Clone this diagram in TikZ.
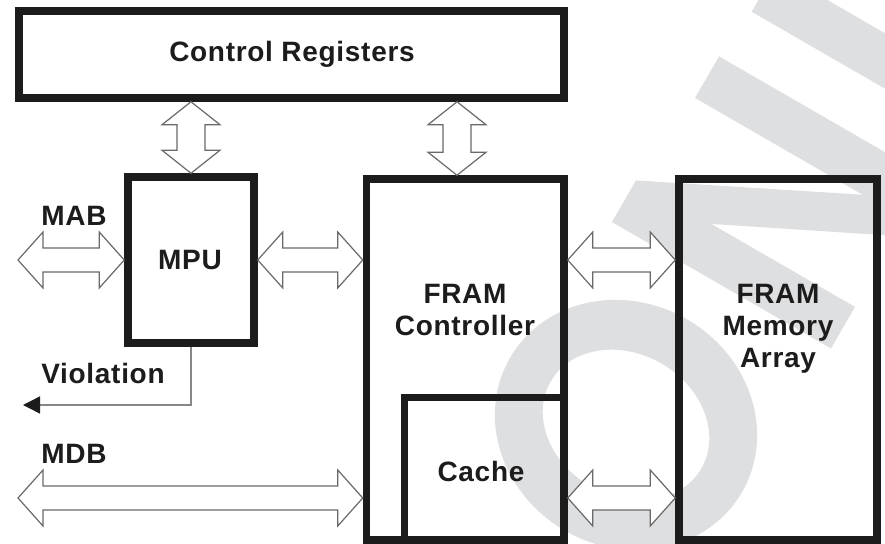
\documentclass[tikz,border=0pt]{standalone}
\usepackage{fontspec}
\setmainfont{Liberation Sans}[LetterSpace=2.5]
\usetikzlibrary{arrows.meta,calc}
\definecolor{wm}{RGB}{222,223,225}
\definecolor{ink}{RGB}{28,28,28}
\definecolor{busgray}{RGB}{105,105,105}
\definecolor{viogray}{RGB}{135,135,135}

\newcommand\hbus[2]{\draw[bus] let \p1=#1, \p2=#2 in
  (\x1,\y1) -- (\x1+25pt,\y1+28pt) -- (\x1+25pt,\y1+12pt) -- (\x2-25pt,\y1+12pt)
  -- (\x2-25pt,\y1+28pt) -- (\x2,\y1) -- (\x2-25pt,\y1-28pt) -- (\x2-25pt,\y1-12pt)
  -- (\x1+25pt,\y1-12pt) -- (\x1+25pt,\y1-28pt) -- cycle;}
\newcommand\vbus[2]{\draw[bus] let \p1=#1, \p2=#2 in
  (\x1,\y1) -- (\x1+29pt,\y1-23pt) -- (\x1+14pt,\y1-23pt) -- (\x1+14pt,\y2+23pt)
  -- (\x1+29pt,\y2+23pt) -- (\x1,\y2) -- (\x1-29pt,\y2+23pt) -- (\x1-14pt,\y2+23pt)
  -- (\x1-14pt,\y1-23pt) -- (\x1-29pt,\y1-23pt) -- cycle;}

\begin{document}
\begin{tikzpicture}[x=1pt,y=-1pt,
  box/.style={draw=ink, line width=7.5pt, inner sep=0pt},
  lbl/.style={text=ink, inner sep=0pt, font=\fontsize{28pt}{32pt}\selectfont\bfseries},
  bus/.style={draw=busgray, fill=white, line width=1.2pt, line join=miter},
  viol/.style={draw=viogray, line width=1.4pt, -{Triangle[length=17pt,width=17pt,color=ink]}}]
\useasboundingbox (0,0) rectangle (885,543);
\fill[white] (0,0) rectangle (885,543);

% watermark
\begin{scope}
\clip (0,0) rectangle (885,543);
\begin{scope}[shift={(626,425)}, rotate=60]
  \fill[wm, even odd rule] (0pt,0pt) ellipse [x radius=122pt, y radius=134pt]
                           (0pt,0pt) ellipse [x radius=71pt, y radius=87pt];
\end{scope}
\begin{scope}[shift={(831,348.5)}, rotate=60]
  \fill[wm] (0pt,0pt) -- (0pt,253pt) -- (48pt,253pt) -- (149pt,49.4pt) -- (149pt,243pt)
    -- (197pt,243pt) -- (197pt,0pt) -- (130pt,0pt) -- (48pt,166pt) -- (48pt,0pt) -- cycle;
  \fill[wm] (252pt,0pt) rectangle (300pt,237pt);
\end{scope}
\end{scope}

% boxes
\node[box, minimum width=545pt, minimum height=87pt] (cr) at (291.5,54.5) {};
\node[box, minimum width=126pt, minimum height=166pt] (mpu) at (191,260) {};
\node[box, minimum width=197.5pt, minimum height=361pt] (ctrl) at (465.25,359.5) {};
\node[box, minimum width=159.5pt, minimum height=142.5pt] (cache) at (484.25,468.75) {};
\node[box, minimum width=198pt, minimum height=361pt] (mem) at (778,359.5) {};

% labels
\node[lbl, anchor=base] (crt) at (292,62) {Control Registers};
\node[lbl, anchor=base] (mput) at (190,269) {MPU};
\node[lbl, anchor=base] (mab) at (74,225) {MAB};
\node[lbl, anchor=base] (vio) at (103,383) {Violation};
\node[lbl, anchor=base] (mdb) at (74,463) {MDB};
\node[lbl, anchor=base] (cachet) at (481,481) {Cache};
\node[lbl, align=center] (ctrlt) at (465,310.5) {FRAM\\Controller};
\node[lbl, align=center] (memt) at (778,329) {FRAM\\Memory\\Array};

% free ends
\coordinate (mabend) at (18,260);
\coordinate (mdbend) at (18,498);
\coordinate (vend) at (23,405);
\coordinate (b2) at (457,0);

% buses
\vbus{(cr.south -| mpu.north)}{(mpu.north)}
\vbus{(cr.south -| b2)}{(ctrl.north -| b2)}
\hbus{(mabend)}{(mpu.west)}
\hbus{(mpu.east)}{(ctrl.west |- mpu.east)}
\hbus{(ctrl.east |- mpu.east)}{(mem.west |- mpu.east)}
\hbus{(mdbend)}{(ctrl.west |- mdbend)}
\hbus{(cache.east |- mdbend)}{(mem.west |- mdbend)}

% violation
\draw[viol] (mpu.south) |- (vend);
\end{tikzpicture}
\end{document}
